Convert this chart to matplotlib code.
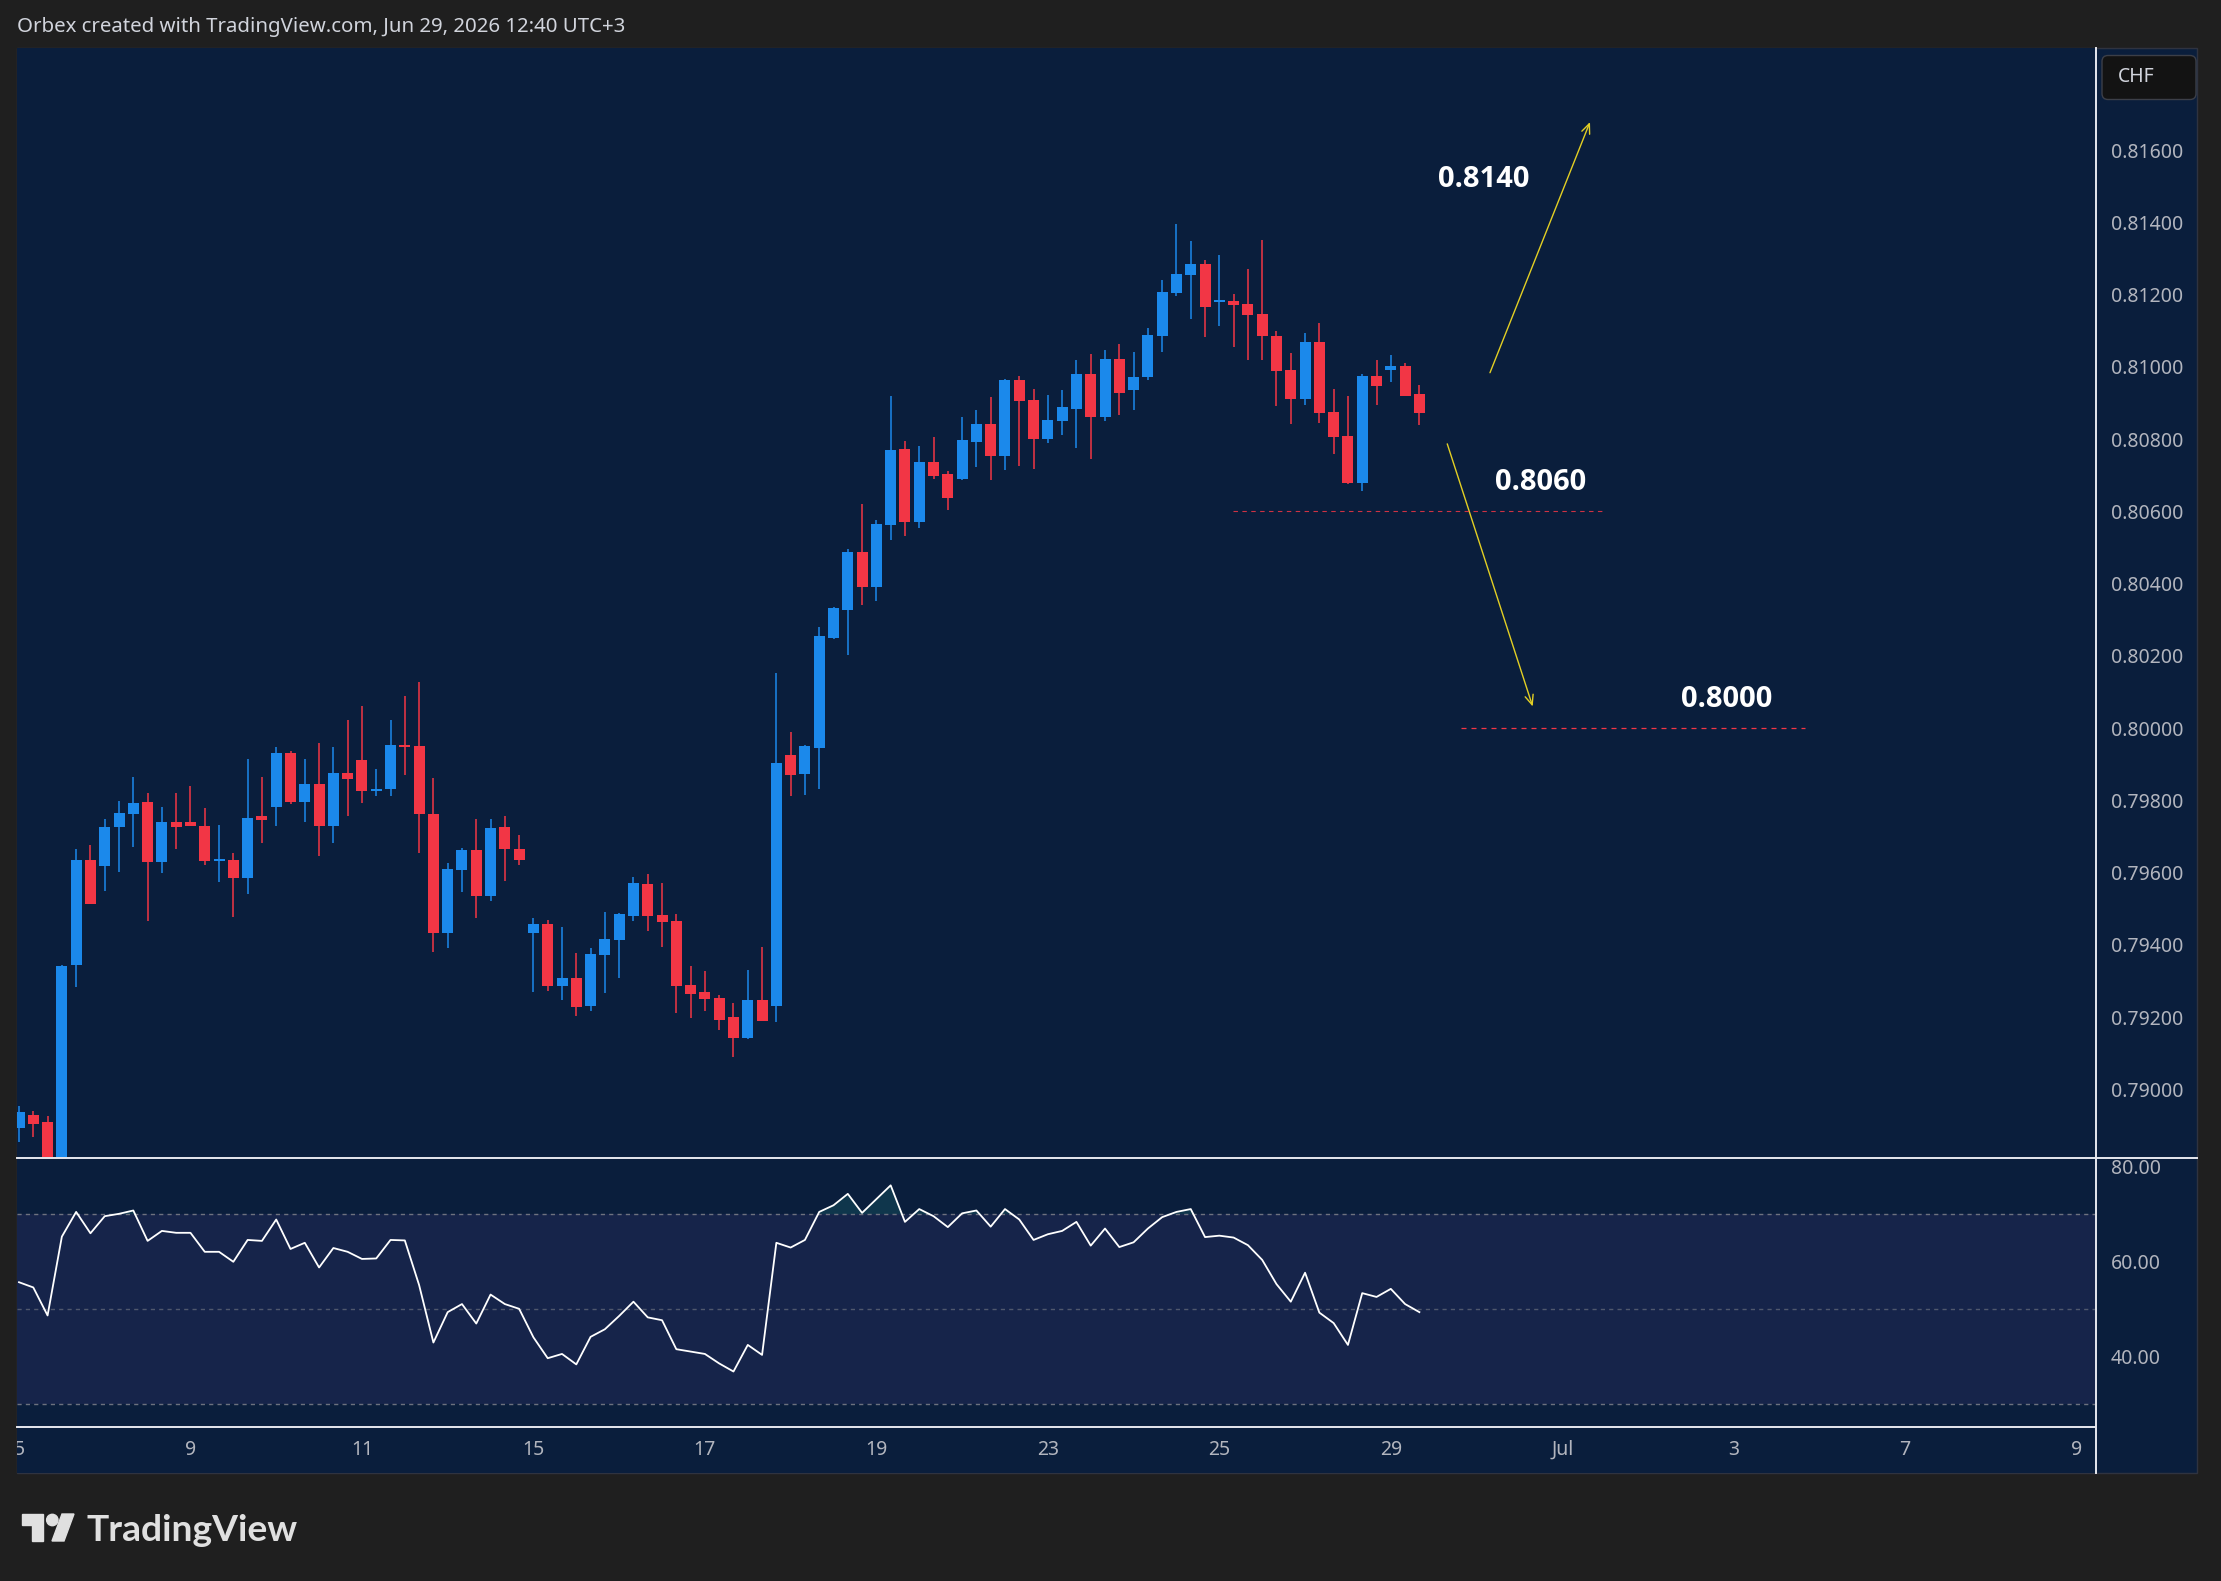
import numpy as np
import matplotlib
matplotlib.use("Agg")
import matplotlib.pyplot as plt
import matplotlib.transforms as mtransforms
from matplotlib.patches import Rectangle, FancyBboxPatch, Polygon, Circle

# 4H USDCHF candles, Jun 5 -> Jun 29
opens = [0.78892, 0.78929, 0.78910, 0.78790, 0.79343, 0.79635, 0.79617, 0.79725, 0.79761, 0.79796,
         0.79628, 0.79741, 0.79741, 0.79729, 0.79633, 0.79635, 0.79586, 0.79757, 0.79783, 0.79932,
         0.79796, 0.79846, 0.79728, 0.79876, 0.79912, 0.79825, 0.79832, 0.79954, 0.79951, 0.79763,
         0.79434, 0.79608, 0.79663, 0.79536, 0.79726, 0.79665, 0.79434, 0.79458, 0.79287, 0.79308,
         0.79232, 0.79373, 0.79414, 0.79481, 0.79569, 0.79483, 0.79466, 0.79289, 0.79270, 0.79253,
         0.79200, 0.79143, 0.79247, 0.79232, 0.79926, 0.79874, 0.79946, 0.80250, 0.80327, 0.80488,
         0.80391, 0.80562, 0.80773, 0.80571, 0.80737, 0.80704, 0.80690, 0.80792, 0.80842, 0.80753,
         0.80964, 0.80908, 0.80800, 0.80850, 0.80884, 0.80980, 0.80861, 0.81022, 0.80936, 0.80972,
         0.81086, 0.81205, 0.81255, 0.81285, 0.81181, 0.81183, 0.81174, 0.81147, 0.81086, 0.80992,
         0.80911, 0.81069, 0.80875, 0.80809, 0.80679, 0.80975, 0.80992, 0.81003, 0.80925]
highs = [0.78954, 0.78941, 0.78927, 0.79345, 0.79666, 0.79677, 0.79749, 0.79799, 0.79865, 0.79821,
         0.79782, 0.79821, 0.79840, 0.79779, 0.79732, 0.79655, 0.79915, 0.79865, 0.79948, 0.79937,
         0.79915, 0.79959, 0.79948, 0.80023, 0.80062, 0.79887, 0.80023, 0.80089, 0.80128, 0.79862,
         0.79627, 0.79668, 0.79748, 0.79748, 0.79757, 0.79704, 0.79474, 0.79469, 0.79449, 0.79377,
         0.79391, 0.79491, 0.79488, 0.79588, 0.79596, 0.79571, 0.79485, 0.79341, 0.79328, 0.79261,
         0.79239, 0.79330, 0.79394, 0.80153, 0.79989, 0.79953, 0.80280, 0.80335, 0.80496, 0.80621,
         0.80576, 0.80920, 0.80795, 0.80781, 0.80806, 0.80712, 0.80861, 0.80881, 0.80917, 0.80967,
         0.80975, 0.80939, 0.80922, 0.80936, 0.81019, 0.81036, 0.81047, 0.81063, 0.81041, 0.81108,
         0.81241, 0.81396, 0.81349, 0.81296, 0.81310, 0.81202, 0.81271, 0.81351, 0.81099, 0.81039,
         0.81094, 0.81122, 0.80939, 0.80920, 0.80980, 0.81019, 0.81033, 0.81011, 0.80950]
lows = [0.78853, 0.78869, 0.78760, 0.78780, 0.79282, 0.79512, 0.79548, 0.79603, 0.79670, 0.79467,
        0.79598, 0.79664, 0.79728, 0.79622, 0.79573, 0.79478, 0.79542, 0.79681, 0.79728, 0.79791,
        0.79741, 0.79645, 0.79681, 0.79758, 0.79794, 0.79811, 0.79813, 0.79869, 0.79653, 0.79379,
        0.79390, 0.79545, 0.79473, 0.79520, 0.79578, 0.79622, 0.79270, 0.79273, 0.79248, 0.79204,
        0.79218, 0.79268, 0.79309, 0.79467, 0.79437, 0.79395, 0.79210, 0.79198, 0.79218, 0.79165,
        0.79090, 0.79138, 0.79190, 0.79187, 0.79813, 0.79816, 0.79832, 0.80248, 0.80203, 0.80341,
        0.80352, 0.80521, 0.80532, 0.80554, 0.80690, 0.80604, 0.80687, 0.80723, 0.80687, 0.80715,
        0.80726, 0.80717, 0.80789, 0.80812, 0.80776, 0.80745, 0.80850, 0.80867, 0.80881, 0.80964,
        0.81041, 0.81196, 0.81133, 0.81083, 0.81113, 0.81055, 0.81019, 0.81019, 0.80892, 0.80842,
        0.80895, 0.80845, 0.80759, 0.80676, 0.80657, 0.80895, 0.80958, 0.80920, 0.80839]
closes = [0.78936, 0.78905, 0.78790, 0.79342, 0.79635, 0.79512, 0.79727, 0.79765, 0.79793, 0.79628,
          0.79741, 0.79725, 0.79728, 0.79633, 0.79636, 0.79586, 0.79752, 0.79747, 0.79932, 0.79796,
          0.79846, 0.79728, 0.79876, 0.79858, 0.79825, 0.79832, 0.79954, 0.79948, 0.79761, 0.79434,
          0.79610, 0.79663, 0.79536, 0.79724, 0.79664, 0.79636, 0.79458, 0.79287, 0.79308, 0.79229,
          0.79375, 0.79416, 0.79485, 0.79571, 0.79481, 0.79464, 0.79287, 0.79265, 0.79251, 0.79193,
          0.79143, 0.79247, 0.79190, 0.79903, 0.79871, 0.79951, 0.80255, 0.80333, 0.80488, 0.80391,
          0.80565, 0.80770, 0.80571, 0.80737, 0.80698, 0.80637, 0.80798, 0.80842, 0.80753, 0.80964,
          0.80906, 0.80800, 0.80853, 0.80889, 0.80980, 0.80861, 0.81022, 0.80928, 0.80972, 0.81088,
          0.81207, 0.81257, 0.81285, 0.81166, 0.81183, 0.81171, 0.81144, 0.81086, 0.80989, 0.80911,
          0.81069, 0.80872, 0.80806, 0.80679, 0.80975, 0.80947, 0.81003, 0.80920, 0.80872]

# RSI(14) of the same bars
rsi = [55.7, 54.6, 48.7, 65.3, 70.5, 66.0, 69.6, 70.1, 70.8, 64.4,
       66.5, 66.1, 66.1, 62.1, 62.1, 60.0, 64.6, 64.4, 68.9, 62.7,
       64.0, 58.8, 62.9, 62.1, 60.6, 60.7, 64.6, 64.5, 55.1, 43.0,
       49.4, 51.1, 47.0, 53.1, 51.1, 50.1, 44.1, 39.7, 40.6, 38.4,
       44.2, 45.8, 48.6, 51.6, 48.3, 47.7, 41.6, 41.1, 40.6, 38.6,
       36.9, 42.5, 40.4, 64.0, 63.0, 64.6, 70.5, 71.9, 74.3, 70.3,
       73.2, 76.1, 68.4, 71.1, 69.6, 67.3, 70.2, 70.8, 67.4, 71.1,
       68.9, 64.6, 65.8, 66.5, 68.4, 63.4, 67.0, 63.1, 64.1, 67.0,
       69.4, 70.5, 71.1, 65.2, 65.5, 65.1, 63.5, 60.4, 55.3, 51.6,
       57.7, 49.3, 47.1, 42.5, 53.4, 52.6, 54.3, 51.1, 49.4]

price_ticks = [0.790, 0.792, 0.794, 0.796, 0.798, 0.800, 0.802, 0.804,
               0.806, 0.808, 0.810, 0.812, 0.814, 0.816]
rsi_ticks = [40, 60, 80]
day_labels = ["5", "9", "11", "15", "17", "19", "23", "25", "29", "Jul", "3", "7", "9"]
day_bars = [0, 12, 24, 36, 48, 60, 72, 84, 96, 108, 120, 132, 144]

# analyst levels
level_up = 0.8140
level_mid = 0.8060
level_down = 0.8000

W, H = 2221, 1581
NAVY = "#0a1e3c"
BLUE = "#1b89eb"
RED = "#f23645"
YELLOW = "#e3cf24"
LABEL = "#b2b5be"
SEP = "#e6e8ee"

plt.rcParams["font.family"] = ["Noto Sans", "DejaVu Sans"]

fig = plt.figure(figsize=(W / 100, H / 100), dpi=100, facecolor="#1f1f1f")


def box(l, t, r, b):
    return [l / W, 1 - b / H, (r - l) / W, (b - t) / H]


# chart container behind the panes
fig.patches.append(Rectangle((17 / W, 1 - 1473 / H), 2180 / W, 1425 / H, transform=fig.transFigure,
                             facecolor=NAVY, edgecolor="#2f3340", lw=1, zorder=-1))

x = np.arange(len(opens))
xlim = (-0.14, 145.28)

# --- price pane
ax = fig.add_axes(box(17, 48, 2095, 1157))
ax.set_facecolor(NAVY)
o, hi, lo, c = map(np.array, (opens, highs, lows, closes))
cols = np.where(c >= o, BLUE, RED)
ax.vlines(x, lo, hi, colors=cols, lw=1.1, zorder=2)
ax.bar(x, np.maximum(np.abs(c - o), 0.00005), 0.77, bottom=np.minimum(o, c),
       color=cols, linewidth=0, zorder=3)
ax.set_xlim(*xlim)
ax.set_ylim(0.788126, 0.818830)
ax.yaxis.tick_right()
ax.set_yticks(price_ticks)
ax.set_yticklabels([f"{t:.5f}" for t in price_ticks])
ax.set_xticks([])
ax.tick_params(axis="y", length=0, pad=11.5, labelsize=14, labelcolor=LABEL)
for s in ax.spines.values():
    s.set_visible(False)

# levels, arrows and labels
ax.plot([84.96, 110.76], [level_mid, level_mid], color=RED, lw=0.8, ls=(0, (4, 4)),
        alpha=0.85, zorder=4)
ax.plot([100.9, 125.0], [level_down, level_down], color=RED, lw=0.9, ls=(0, (4, 4)), zorder=4)
arrow = dict(arrowstyle="->,head_length=0.7,head_width=0.3", color=YELLOW, lw=1.0,
             shrinkA=0, shrinkB=0)
ax.annotate("", xy=(109.94, 0.81678), xytext=(102.94, 0.80984), arrowprops=arrow)
ax.annotate("", xy=(105.93, 0.80060), xytext=(99.95, 0.80787), arrowprops=arrow)
lab = dict(color="white", fontsize=21, fontweight="bold", family=["Open Sans", "DejaVu Sans"],
           ha="center", va="center")
ax.text(102.5, 0.81518, f"{level_up:.4f}", **lab)
ax.text(106.5, 0.80680, f"{level_mid:.4f}", **lab)
ax.text(119.5, 0.80080, f"{level_down:.4f}", **lab)

# --- RSI pane
rax = fig.add_axes(box(17, 1158, 2095, 1427))
rax.set_facecolor(NAVY)
r = np.array(rsi)
rax.axhspan(30, 70, color="#16244a", lw=0)
for lvl, a in ((70, 0.9), (50, 0.6), (30, 0.9)):
    rax.axhline(lvl, color="#787b86", lw=1.0, ls=(0, (3, 3)), alpha=a)
rax.fill_between(x, 70, r, where=r > 70, interpolate=True, color="#26a69a", alpha=0.18, lw=0)
rax.plot(x, r, color="white", lw=1.3)
rax.set_xlim(*xlim)
rax.set_ylim(25.22, 81.85)
rax.yaxis.tick_right()
rax.set_yticks(rsi_ticks)
rax.set_yticklabels([f"{t:.2f}" for t in rsi_ticks])
rax.set_xticks([])
rax.tick_params(axis="y", length=0, pad=11.5, labelsize=14, labelcolor=LABEL)
for s in rax.spines.values():
    s.set_visible(False)

# --- time axis strip
tax = fig.add_axes(box(17, 1427, 2095, 1473))
tax.set_facecolor(NAVY)
tax.set_xlim(*xlim)
tax.set_ylim(0, 1)
tax.set_xticks([])
tax.set_yticks([])
for s in tax.spines.values():
    s.set_visible(False)
for pos, txt in zip(day_bars, day_labels):
    tax.text(pos, 0.5, txt, ha="center", va="center", fontsize=14, color=LABEL, clip_on=True)

# --- overlay: separators, header, logo, currency box
ov = fig.add_axes([0, 0, 1, 1], zorder=10)
ov.set_xlim(0, W)
ov.set_ylim(H, 0)
ov.axis("off")
ov.patch.set_alpha(0)
ov.plot([17, 2197], [1157.5, 1157.5], color=SEP, lw=1.4)
ov.plot([17, 2095], [1427, 1427], color=SEP, lw=1.4)
ov.plot([2095.5, 2095.5], [48, 1473], color=SEP, lw=1.4)

ov.text(17, 27, "Orbex created with TradingView.com, Jun 29, 2026 12:40 UTC+3",
        fontsize=14.7, color="#d1d4dc", va="center", ha="left")

ov.add_patch(FancyBboxPatch((2102, 55.5), 94, 44, boxstyle="round,pad=0,rounding_size=6",
                            fc="#131313", ec="#3c3f48", lw=1))
ov.text(2118, 77.5, "CHF", fontsize=14, color="#d1d4dc", va="center", ha="left")

logo = "#e0e0e0"
ov.add_patch(Polygon([(21.7, 1514), (43.3, 1514), (43.3, 1541), (31.7, 1541), (31.7, 1525),
                      (21.7, 1525)], closed=True, color=logo))
ov.add_patch(Circle((52.3, 1520), 5.7, color=logo))
ov.add_patch(Polygon([(62, 1514), (74, 1514), (64, 1541), (52, 1541)], closed=True, color=logo))
ov.text(86.7, 1541, "TradingView", fontsize=26.8, fontweight="bold",
        family=["Lato", "DejaVu Sans"], color=logo, va="baseline", ha="left")

fig.savefig("out.png", dpi=100, facecolor=fig.get_facecolor())
